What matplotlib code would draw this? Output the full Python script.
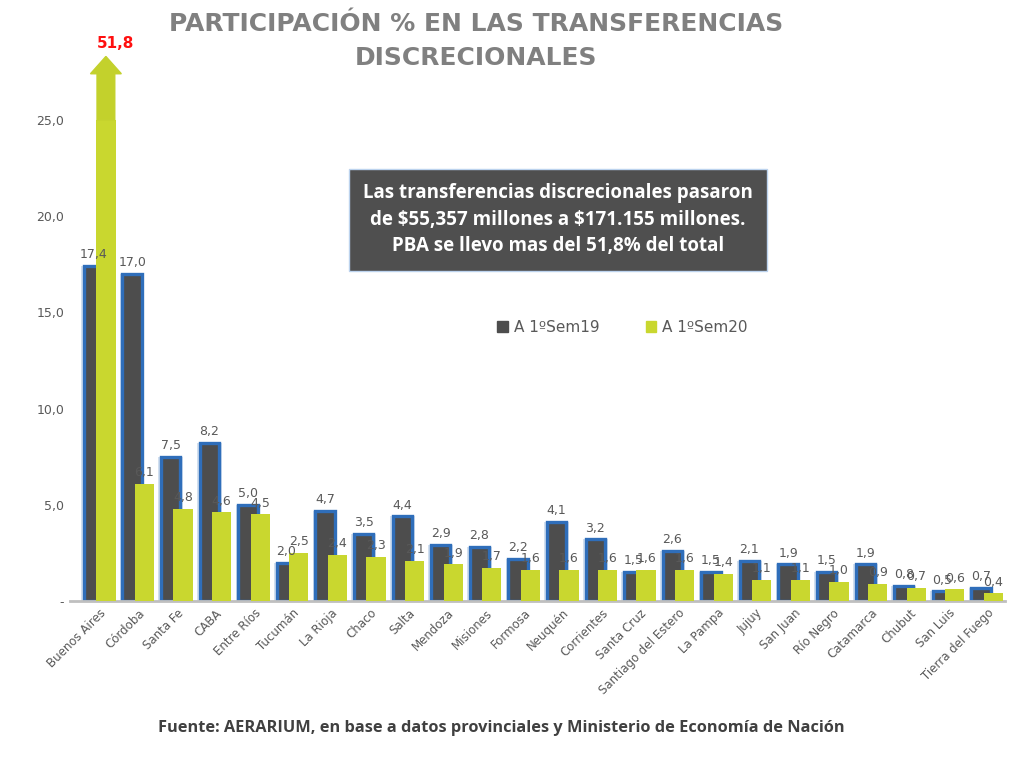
import numpy as np
import matplotlib.pyplot as plt
from matplotlib.patches import Polygon, Patch

provincias = ['Buenos Aires', 'Córdoba', 'Santa Fe', 'CABA', 'Entre Ríos', 'Tucumán',
              'La Rioja', 'Chaco', 'Salta', 'Mendoza', 'Misiones', 'Formosa', 'Neuquén',
              'Corrientes', 'Santa Cruz', 'Santiago del Estero', 'La Pampa', 'Jujuy',
              'San Juan', 'Río Negro', 'Catamarca', 'Chubut', 'San Luis', 'Tierra del Fuego']
sem19 = [17.4, 17.0, 7.5, 8.2, 5.0, 2.0, 4.7, 3.5, 4.4, 2.9, 2.8, 2.2, 4.1,
         3.2, 1.5, 2.6, 1.5, 2.1, 1.9, 1.5, 1.9, 0.8, 0.5, 0.7]
sem20 = [51.8, 6.1, 4.8, 4.6, 4.5, 2.5, 2.4, 2.3, 2.1, 1.9, 1.7, 1.6, 1.6,
         1.6, 1.6, 1.6, 1.4, 1.1, 1.1, 1.0, 0.9, 0.7, 0.6, 0.4]
y_ticks = [0, 5, 10, 15, 20, 25]
y_cap = 25  # eje cortado en 25

dark = '#4d4d4d'
blue = '#2f6eba'
green = '#c9d72f'
grey_txt = '#595959'


def fmt(v):
    return f'{v:.1f}'.replace('.', ',')


fig = plt.figure(figsize=(10.24, 7.63), dpi=100)
ax = fig.add_axes([0.068, 0.2123, 0.913, 0.6305])

x = np.arange(len(provincias))
off = 0.16
w = 0.5

# barras 2019 con borde azul difuso
ax.bar(x - off, sem19, width=w + 0.14, color=blue, alpha=0.22, linewidth=0, zorder=1)
ax.bar(x - off, sem19, width=w, color=dark, edgecolor=blue, linewidth=2.4, zorder=2)
s20_plot = [min(v, y_cap) for v in sem20]
ax.bar(x + off, s20_plot, width=w, color=green, linewidth=0, zorder=3)

# etiquetas
for i, v in enumerate(sem19):
    ax.text(x[i] - off, v + 0.25, fmt(v), ha='center', va='bottom',
            fontsize=9, color=grey_txt, zorder=5)
for i, v in enumerate(sem20):
    if v > y_cap:
        continue
    ax.text(x[i] + off, v + 0.25, fmt(v), ha='center', va='bottom',
            fontsize=9, color=grey_txt, zorder=5)

# flecha para Buenos Aires (valor fuera de escala)
for i, v in enumerate(sem20):
    if v > y_cap:
        cx = x[i] + off
        sw, hw = 0.23, 0.4
        pts = [(cx - sw, y_cap), (cx + sw, y_cap), (cx + sw, y_cap + 2.4),
               (cx + hw, y_cap + 2.4), (cx, y_cap + 3.3), (cx - hw, y_cap + 2.4),
               (cx - sw, y_cap + 2.4)]
        ax.add_patch(Polygon(pts, closed=True, color='#c3d12c', clip_on=False, zorder=3))
        ax.text(cx + 0.25, y_cap + 3.6, fmt(v), ha='center',
                va='bottom', fontsize=11, fontweight='bold', color='#ff1010')

ax.set_xlim(-0.78, 23.45)
ax.set_ylim(0, y_cap)
ax.set_yticks(y_ticks)
ax.set_yticklabels(['-' if t == 0 else fmt(t) for t in y_ticks],
                   fontsize=9, color=grey_txt)
ax.set_xticks(x)
ax.set_xticklabels(provincias, rotation=45, ha='right', rotation_mode='anchor',
                   fontsize=8.5, color=grey_txt)
ax.tick_params(length=0, axis='both', pad=4)
for s in ['top', 'right', 'left']:
    ax.spines[s].set_visible(False)
ax.spines['bottom'].set_color('#bfbfbf')
ax.spines['bottom'].set_linewidth(2)

handles = [Patch(color=dark, label='A 1ºSem19'), Patch(color=green, label='A 1ºSem20')]
ax.legend(handles=handles, loc='center', bbox_to_anchor=(0.608, 0.571),
          bbox_transform=fig.transFigure, ncol=2, frameon=False, fontsize=11,
          handlelength=0.7, handleheight=0.7, handletextpad=0.4, columnspacing=3.0,
          labelcolor=grey_txt)

fig.text(0.465, 0.946, 'PARTICIPACIÓN % EN LAS TRANSFERENCIAS\nDISCRECIONALES',
         ha='center', va='center', fontsize=18, fontweight='bold', color='#808080',
         family='DejaVu Sans', linespacing=1.55)

fig.text(0.545, 0.712,
         'Las transferencias discrecionales pasaron\n'
         'de \\$55,357 millones a \\$171.155 millones.\n'
         'PBA se llevo mas del 51,8% del total',
         ha='center', va='center', fontsize=13.5, fontweight='bold', color='white',
         family='Open Sans', linespacing=1.45,
         bbox=dict(boxstyle='square,pad=0.75', facecolor='#4f4f4f', edgecolor='#bcd3ee',
                   linewidth=1))

fig.text(0.49, 0.046,
         'Fuente: AERARIUM, en base a datos provinciales y Ministerio de Economía de Nación',
         ha='center', va='center', fontsize=11.8, fontweight='bold', color='#404040',
         family='Open Sans')

fig.savefig('out.png', dpi=100)
